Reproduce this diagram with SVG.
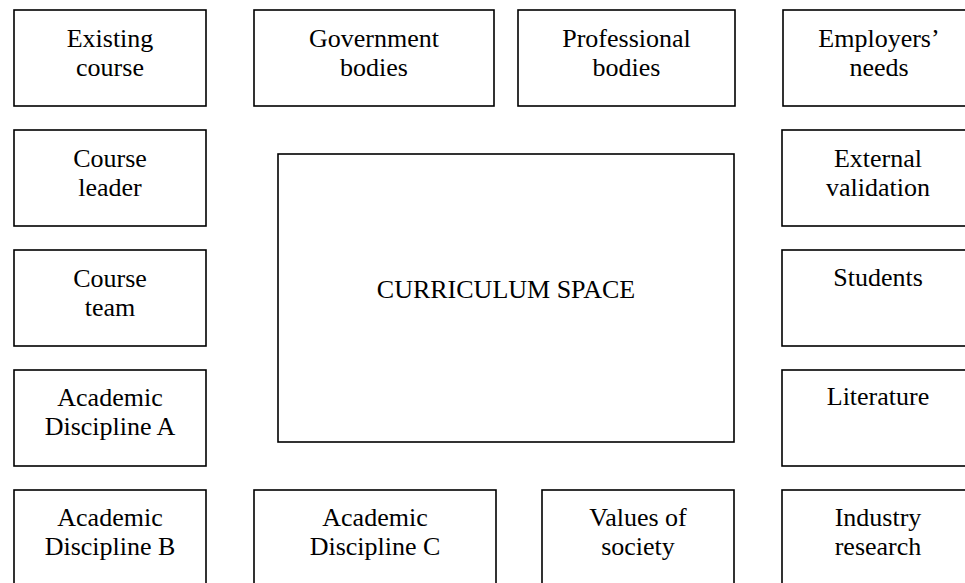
<svg xmlns="http://www.w3.org/2000/svg" width="965" height="583" viewBox="0 0 965 583">
<style>
rect{fill:#fff;stroke:#000;stroke-width:1.6}
text{font-family:"Liberation Serif","Times New Roman",serif;font-size:26px;fill:#000;text-anchor:middle}
</style>
<rect x="0" y="0" width="965" height="583" style="stroke:none"/>
<g id="connectors"/>
<g id="existing-course"><rect x="14" y="10" width="192" height="96"/><text x="110" y="47">Existing</text><text x="110" y="76">course</text></g>
<g id="government-bodies"><rect x="254" y="10" width="240" height="96"/><text x="374" y="47">Government</text><text x="374" y="76">bodies</text></g>
<g id="professional-bodies"><rect x="518" y="10" width="217" height="96"/><text x="626.5" y="47">Professional</text><text x="626.5" y="76">bodies</text></g>
<g id="employers-needs"><rect x="783" y="10" width="192" height="96"/><text x="879" y="47">Employers’</text><text x="879" y="76">needs</text></g>
<g id="course-leader"><rect x="14" y="130" width="192" height="96"/><text x="110" y="167">Course</text><text x="110" y="196">leader</text></g>
<g id="external-validation"><rect x="782" y="130" width="192" height="96"/><text x="878" y="167">External</text><text x="878" y="196">validation</text></g>
<g id="course-team"><rect x="14" y="250" width="192" height="96"/><text x="110" y="287">Course</text><text x="110" y="316">team</text></g>
<g id="students"><rect x="782" y="250" width="192" height="96"/><text x="878" y="286">Students</text></g>
<g id="academic-a"><rect x="14" y="370" width="192" height="96"/><text x="110" y="406">Academic</text><text x="110" y="435">Discipline A</text></g>
<g id="literature"><rect x="782" y="370" width="192" height="96"/><text x="878" y="405">Literature</text></g>
<g id="curriculum-space"><rect x="278" y="154" width="456" height="288"/><text x="506" y="298">CURRICULUM SPACE</text></g>
<g id="academic-b"><rect x="14" y="490" width="192" height="96"/><text x="110" y="526">Academic</text><text x="110" y="555">Discipline B</text></g>
<g id="academic-c"><rect x="254" y="490" width="242" height="96"/><text x="375" y="526">Academic</text><text x="375" y="555">Discipline C</text></g>
<g id="values-of-society"><rect x="542" y="490" width="192" height="96"/><text x="638" y="526">Values of</text><text x="638" y="555">society</text></g>
<g id="industry-research"><rect x="782" y="490" width="192" height="96"/><text x="878" y="526">Industry</text><text x="878" y="555">research</text></g>
</svg>
